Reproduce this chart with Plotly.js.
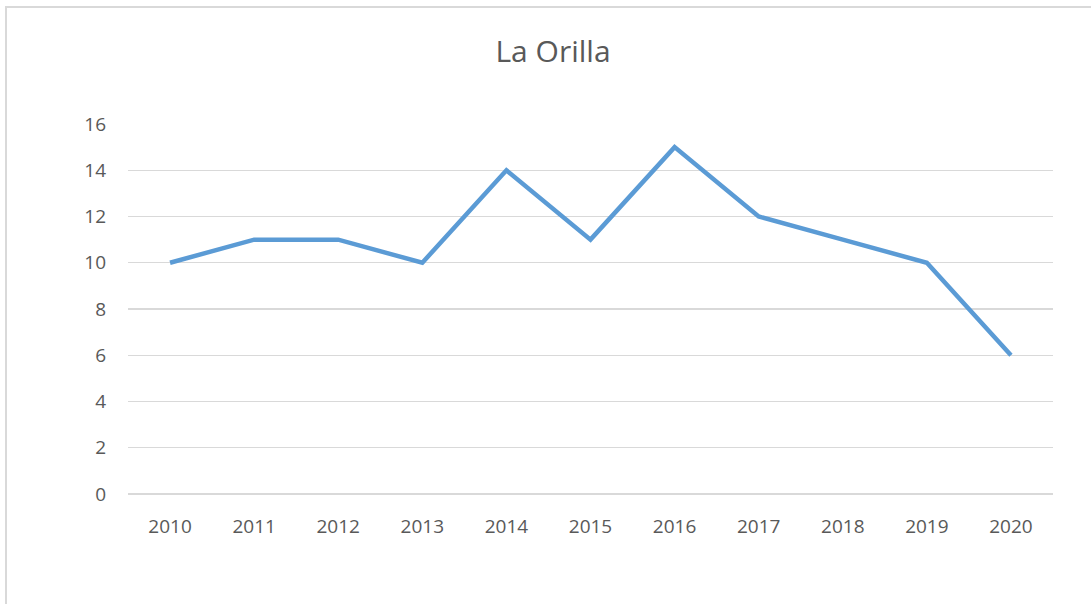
<!DOCTYPE html>
<html>
<head>
<meta charset="utf-8">
<script src="https://cdn.plot.ly/plotly-3.0.1.min.js"></script>
<style>
html,body{margin:0;padding:0;background:#fff;overflow:hidden;}
#frame{position:absolute;left:5px;top:6px;width:1100px;height:620px;border-left:2px solid #d9d9d9;border-top:2px solid #d9d9d9;}
#chart{position:absolute;left:0;top:0;width:1091px;height:604px;}
</style>
</head>
<body>
<div id="frame"></div>
<div id="chart"></div>
<script>
const years = ['2010','2011','2012','2013','2014','2015','2016','2017','2018','2019','2020'];
const values = [10, 11, 11, 10, 14, 11, 15, 12, 11, 10, 6];
const yTicks = [0, 2, 4, 6, 8, 10, 12, 14, 16];
const chartTitle = 'La Orilla';

const font = "'Open Sans', 'Noto Sans', sans-serif";
Plotly.newPlot('chart', [{
  x: years, y: values, type: 'scatter', mode: 'lines',
  line: {color: '#5b9bd5', width: 4.5, shape: 'linear'},
  hoverinfo: 'skip'
}], {
  width: 1091, height: 604,
  paper_bgcolor: 'rgba(0,0,0,0)', plot_bgcolor: 'rgba(0,0,0,0)',
  margin: {l: 128, r: 38, t: 124, b: 110},
  showlegend: false,
  title: {text: chartTitle, font: {family: font, size: 30, color: '#595959'},
          xref: 'container', x: 553/1091, xanchor: 'center',
          yref: 'container', y: 1 - 51/604, yanchor: 'middle'},
  xaxis: {type: 'category', range: [-0.5, years.length - 0.5],
          showgrid: false, zeroline: false, showline: false,
          ticks: '', ticklabelstandoff: 19,
          tickfont: {family: font, size: 19, color: '#595959'}},
  yaxis: {range: [0, 16], tickvals: yTicks, ticktext: yTicks.map(String),
          showgrid: true, gridcolor: '#d9d9d9', gridwidth: 1.3,
          zeroline: true, zerolinecolor: '#d9d9d9', zerolinewidth: 1.3,
          showline: false, ticks: '', ticklabelstandoff: 21,
          tickfont: {family: font, size: 19, color: '#595959'}}
}, {staticPlot: true});
</script>
</body>
</html>
